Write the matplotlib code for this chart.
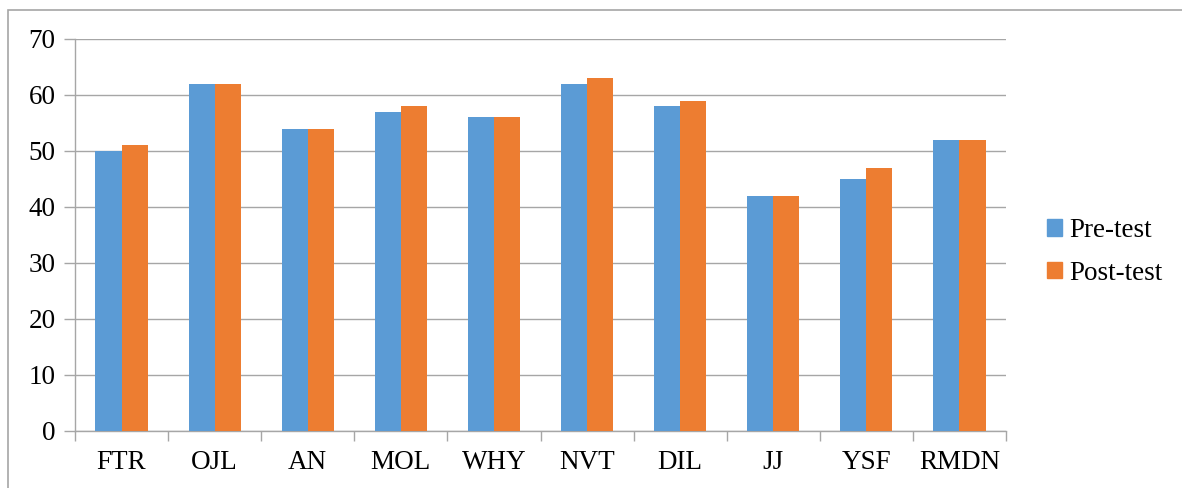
import matplotlib
matplotlib.use("Agg")
import matplotlib.pyplot as plt
from matplotlib.patches import Rectangle
import numpy as np

categories = ["FTR", "OJL", "AN", "MOL", "WHY", "NVT", "DIL", "JJ", "YSF", "RMDN"]
pre_test = [50, 62, 54, 57, 56, 62, 58, 42, 45, 52]
post_test = [51, 62, 54, 58, 56, 63, 59, 42, 47, 52]
series_names = ["Pre-test", "Post-test"]
colors = ["#5B9BD5", "#ED7D31"]

plt.rcParams['font.family'] = ['Liberation Serif', 'DejaVu Serif']

W, H = 1182, 488
fig = plt.figure(figsize=(W/100, H/100), dpi=100)
ax = fig.add_axes([75/W, 1-431/H, (1006-75)/W, (431-39)/H])

x = np.arange(len(categories))
bw = 0.28
ax.bar(x - bw/2, pre_test, bw, color=colors[0], label=series_names[0], zorder=3)
ax.bar(x + bw/2, post_test, bw, color=colors[1], label=series_names[1], zorder=3)

ax.set_xlim(-0.5, len(categories) - 0.5)
ax.set_ylim(0, 70)
ax.set_yticks(range(0, 71, 10))
ax.yaxis.grid(True, color="#A6A6A6", linewidth=1.0, zorder=0)
ax.set_axisbelow(True)

for s in ["top", "right"]:
    ax.spines[s].set_visible(False)
ax.spines["left"].set_color("#A6A6A6")
ax.spines["bottom"].set_color("#A6A6A6")
ax.spines["left"].set_linewidth(1.0)
ax.spines["bottom"].set_linewidth(1.0)

fs = 19.5
ax.set_xticks(x)
ax.set_xticklabels(categories, fontsize=fs)
ax.tick_params(axis="x", length=0, pad=14)
ax.set_xticks(np.arange(-0.5, len(categories), 1.0), minor=True)
ax.tick_params(axis="x", which="minor", length=7, color="#A6A6A6", width=1.0)
ax.tick_params(axis="y", length=8, color="#A6A6A6", width=1.0, labelsize=fs, pad=6)

handles = [Rectangle((0, 0), 1, 1, color=c) for c in colors]
fig.legend(handles, series_names, loc="center left", bbox_to_anchor=(1023/W, 1-252/H),
           frameon=False, fontsize=fs, handlelength=0.55, handleheight=0.55,
           handletextpad=0.25, labelspacing=0.65)

fig.patches.append(Rectangle((8/W, -0.1), 1.2, 1.1 - 10/H, transform=fig.transFigure,
                             fill=False, edgecolor="#A6A6A6", linewidth=1.2))

fig.savefig("out.png", dpi=100)
